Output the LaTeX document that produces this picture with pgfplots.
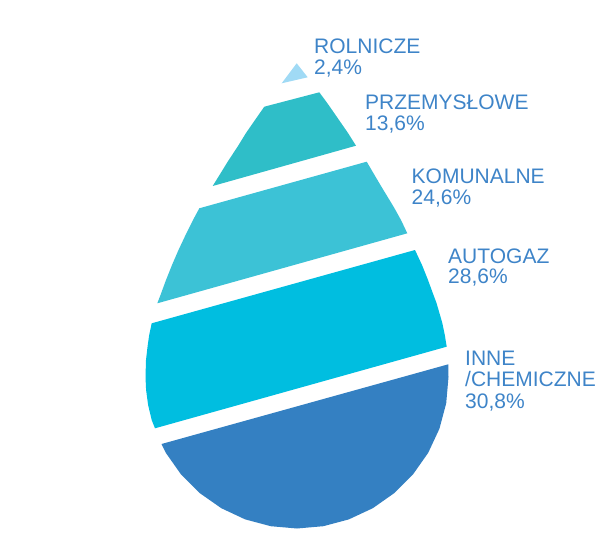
\documentclass[border=0pt]{standalone}
\usepackage{pgfplots}
\pgfplotsset{compat=1.18}
\usepackage{fontspec}
\setmainfont{Liberation Sans}
\definecolor{crol}{RGB}{160,218,245}
\definecolor{cprz}{RGB}{47,190,200}
\definecolor{ckom}{RGB}{60,194,214}
\definecolor{caut}{RGB}{0,190,224}
\definecolor{cinn}{RGB}{52,128,194}
\definecolor{ctxt}{RGB}{62,132,200}
\tikzset{lbl/.style={font=\fontsize{21}{21.5}\selectfont, text=ctxt, anchor=base west, inner sep=0pt}}
\begin{document}
\begin{tikzpicture}
\begin{axis}[
  scale only axis, width=605pt, height=540pt,
  xmin=0, xmax=605, ymin=0, ymax=540, y dir=reverse,
  hide axis, clip=false,
]
\path (rel axis cs:0,0) rectangle (rel axis cs:1,1);
% INNE / CHEMICZNE 30.8
\addplot[fill=cinn, draw=none] coordinates {
(161.5,444) (448.3,364.3) (448.5,377) (446.2,403.3) (439.4,428.8) (428.2,452.8)
(413.0,474.4) (394.4,493.0) (372.8,508.2) (348.8,519.4) (323.3,526.2) (297,528.5)
(270.7,526.2) (245.2,519.4) (221.3,508.2) (199.6,493.0) (181.0,474.4) (165.8,452.8)} --cycle;
% AUTOGAZ 28.6
\addplot[fill=caut, draw=none] coordinates {
(151.7,323.3) (415,250) (422,265) (428,280) (433.5,295) (436.5,303) (440,315)
(442.3,323) (444.8,335) (446.7,346.7) (155,428.3) (151.7,420) (148.1,405)
(146.1,390) (145.5,377) (146,360) (147.5,347) (149.2,335)} --cycle;
% KOMUNALNE 24.6
\addplot[fill=ckom, draw=none] coordinates {
(199.3,208.3) (366.7,161.7) (374.5,175) (381,186) (389.5,200) (394.3,208) (401,220)
(407.3,233.3) (157.3,303.3) (160.5,295) (166,280) (172,265) (178.5,250) (186.5,233) (193,220)} --cycle;
% PRZEMYSLOWE 13.6
\addplot[fill=cprz, draw=none] coordinates {
(264.3,106.7) (319.3,92.3) (325,100) (330,107) (339,120) (348,133) (356,145.7)
(212.7,186) (219.5,175) (227.5,162) (238,146) (246,133) (255,120)} --cycle;
% ROLNICZE 2.4
\addplot[fill=crol, draw=none] coordinates {
(296.7,63.3) (307.7,77.3) (281.7,83.3)} --cycle;

\node[lbl] at (axis cs:314,53.3) {ROLNICZE};
\node[lbl] at (axis cs:314,75) {2,4\%};
\node[lbl] at (axis cs:365,110) {PRZEMYSŁOWE};
\node[lbl] at (axis cs:365,131) {13,6\%};
\node[lbl] at (axis cs:411.5,183.3) {KOMUNALNE};
\node[lbl] at (axis cs:411.5,204.3) {24,6\%};
\node[lbl] at (axis cs:448,263.3) {AUTOGAZ};
\node[lbl] at (axis cs:448,283.8) {28,6\%};
\node[lbl] at (axis cs:465,365) {INNE};
\node[lbl] at (axis cs:465,386) {/CHEMICZNE};
\node[lbl] at (axis cs:465,408.3) {30,8\%};
\end{axis}
\end{tikzpicture}
\end{document}
